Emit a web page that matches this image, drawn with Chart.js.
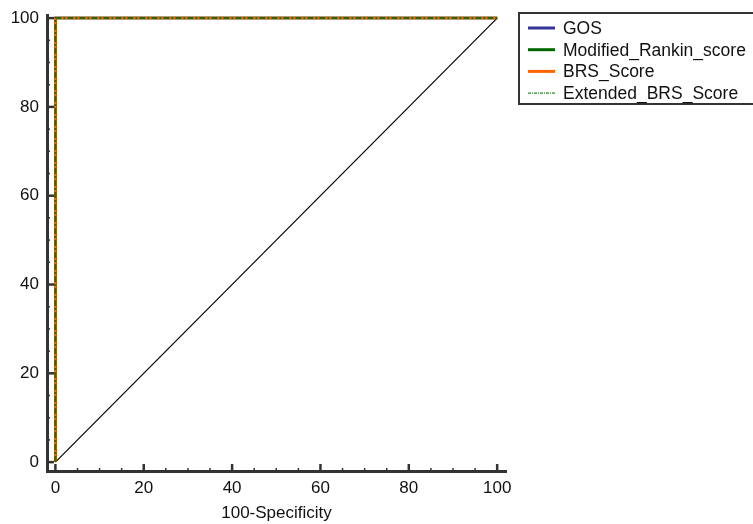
<!DOCTYPE html>
<html>
<head>
<meta charset="utf-8">
<script src="https://cdn.jsdelivr.net/npm/chart.js@4"></script>
<style>
  html, body { margin: 0; padding: 0; background: #fff; }
  #wrap { position: relative; width: 753px; height: 524px; }
</style>
</head>
<body>
<div id="wrap"><canvas id="roc" width="753" height="524"></canvas></div>
<script>
// ROC curves (100-Specificity vs Sensitivity)
const gosX = [0, 0, 100];
const gosY = [0, 100, 100];
const rankinX = [0, 0, 100];
const rankinY = [0, 100, 100];
const brsX = [0, 0, 100];
const brsY = [0, 100, 100];
const extBrsX = [0, 0, 100];
const extBrsY = [0, 100, 100];
// reference diagonal
const diagX = [0, 100];
const diagY = [0, 100];

const tickValues = [0, 20, 40, 60, 80, 100];
const seriesLabels = ['GOS', 'Modified_Rankin_score', 'BRS_Score', 'Extended_BRS_Score'];

const toPoints = (xs, ys) => xs.map((x, i) => ({ x: x, y: ys[i] }));

const axisColor = '#333';
const fontFamily = 'Liberation Sans, Arial, sans-serif';

// inward major/minor ticks like the original plot
const innerTicks = {
    id: 'innerTicks',
    afterDraw(chart) {
        const ctx = chart.ctx;
        const xs = chart.scales.x, ys = chart.scales.y;
        const area = chart.chartArea;
        ctx.save();
        ctx.strokeStyle = axisColor;
        for (let v = 0; v <= 100; v += 5) {
            const major = v % 20 === 0;
            ctx.lineWidth = major ? 2.5 : 1.5;
            const len = major ? 7 : 3;
            const px = xs.getPixelForValue(v);
            ctx.beginPath();
            ctx.moveTo(px, area.bottom);
            ctx.lineTo(px, area.bottom - len);
            ctx.stroke();
            const py = ys.getPixelForValue(v);
            ctx.beginPath();
            ctx.moveTo(area.left, py);
            ctx.lineTo(area.left + len, py);
            ctx.stroke();
        }
        ctx.restore();
    }
};

// boxed legend at top right
const boxLegend = {
    id: 'boxLegend',
    afterDraw(chart) {
        const ctx = chart.ctx;
        const left = 519, top = 13, width = 240, height = 91;
        ctx.save();
        ctx.lineWidth = 2;
        ctx.strokeStyle = axisColor;
        ctx.strokeRect(left, top, width, height);
        ctx.font = '17.5px ' + fontFamily;
        ctx.textBaseline = 'middle';
        ctx.fillStyle = '#111';
        seriesLabels.forEach((label, i) => {
            const d = chart.data.datasets.find(ds => ds.label === label);
            const y = 28 + i * 21.7;
            const ext = label === 'Extended_BRS_Score';
            ctx.strokeStyle = ext ? '#006600' : d.borderColor;
            ctx.lineWidth = ext ? 1 : 3;
            ctx.setLineDash(ext ? [3, 1, 1, 1] : []);
            ctx.beginPath();
            ctx.moveTo(528, y);
            ctx.lineTo(555, y);
            ctx.stroke();
            ctx.setLineDash([]);
            ctx.fillText(label, 563, y + 1);
        });
        ctx.restore();
    }
};

new Chart(document.getElementById('roc').getContext('2d'), {
    type: 'scatter',
    data: {
        datasets: [
            {
                label: 'diagonal',
                data: toPoints(diagX, diagY),
                showLine: true,
                borderColor: '#000',
                borderWidth: 1.2,
                pointRadius: 0,
                order: 5
            },
            {
                label: seriesLabels[0],
                data: toPoints(gosX, gosY),
                showLine: true,
                borderColor: '#333399',
                borderWidth: 2.5,
                pointRadius: 0,
                order: 4
            },
            {
                label: seriesLabels[1],
                data: toPoints(rankinX, rankinY),
                showLine: true,
                borderColor: '#006600',
                borderWidth: 2.5,
                pointRadius: 0,
                order: 3
            },
            {
                label: seriesLabels[2],
                data: toPoints(brsX, brsY),
                showLine: true,
                borderColor: '#ff6600',
                borderWidth: 2.5,
                pointRadius: 0,
                order: 2
            },
            {
                label: seriesLabels[3],
                data: toPoints(extBrsX, extBrsY),
                showLine: true,
                borderColor: '#2f6400',
                borderWidth: 2,
                borderDash: [6, 2, 2, 2],
                pointRadius: 0,
                order: 1
            }
        ]
    },
    options: {
        responsive: false,
        animation: false,
        layout: { padding: { top: 15, right: 247, left: 0, bottom: 0 } },
        plugins: {
            legend: { display: false },
            tooltip: { enabled: false }
        },
        scales: {
            x: {
                type: 'linear',
                min: -1.9,
                max: 102,
                afterBuildTicks: s => { s.ticks = tickValues.map(v => ({ value: v })); },
                afterFit: s => { s.height = 53; },
                grid: { display: false, drawTicks: false },
                border: { display: true, width: 3, color: axisColor },
                ticks: {
                    padding: 7,
                    color: '#111',
                    font: { family: fontFamily, size: 17 },
                    maxRotation: 0
                },
                title: {
                    display: true,
                    text: '100-Specificity',
                    color: '#111',
                    font: { family: fontFamily, size: 17 },
                    padding: { top: 4, bottom: 0 }
                }
            },
            y: {
                type: 'linear',
                min: -2,
                max: 100.7,
                afterBuildTicks: s => { s.ticks = tickValues.map(v => ({ value: v })); },
                afterFit: s => { s.width = 47; s.paddingTop = 0; s.paddingBottom = 0; },
                grid: { display: false, drawTicks: false },
                border: { display: true, width: 3, color: axisColor },
                ticks: {
                    padding: 8,
                    color: '#111',
                    font: { family: fontFamily, size: 17 }
                }
            }
        }
    },
    plugins: [innerTicks, boxLegend]
});
</script>
</body>
</html>
